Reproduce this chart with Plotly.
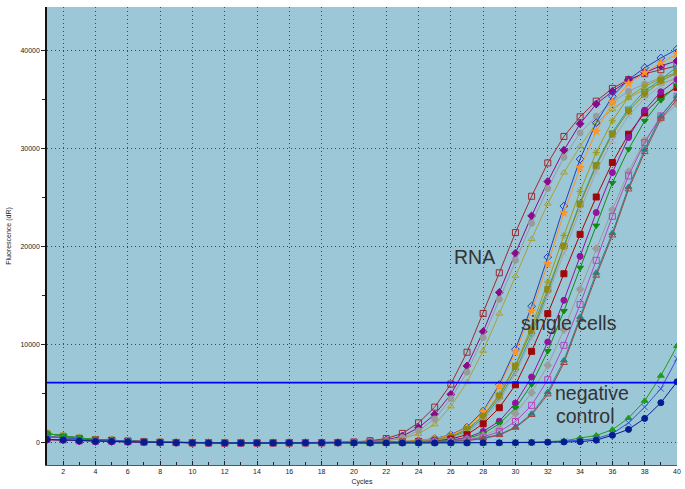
import plotly.graph_objects as go

cycles = list(range(1, 41))

# shared early-cycle baselines (cycles 1-19)
BASE_A = [900, 650, 450, 300, 250, 150, 80, 20, 0, -20, -30, -40, -40, -40, -30, -30, -20, -10, 0]
BASE_B = [600, 450, 350, 250, 200, 120, 60, 10, -10, -30, -40, -50, -50, -40, -40, -30, -30, -20, -10]
BASE_C = [300, 250, 150, 100, 100, 60, 30, 0, -20, -40, -50, -60, -60, -50, -50, -40, -40, -30, -20]

# late cycles 20-40
rna1 = [50, 170, 400, 920, 2000, 3600, 5950, 9200, 13150, 17300, 21400, 25100, 28500, 31200, 33200, 34800, 36100, 37000, 37600, 38000, 38400]
rna2 = [30, 100, 250, 650, 1500, 2850, 4900, 7800, 11300, 15300, 19300, 23100, 26600, 29800, 32500, 34500, 35800, 36900, 37700, 38400, 38900]
rna3 = [20, 80, 200, 500, 1200, 2400, 4460, 7170, 10680, 14600, 18570, 22350, 25890, 29080, 31560, 33270, 34700, 35800, 36560, 37200, 37700]
rna4 = [10, 60, 150, 400, 880, 1840, 3670, 6150, 9350, 13130, 16970, 20750, 24350, 27520, 30200, 32550, 33980, 35130, 36000, 36600, 37100]

sc1 = [0, 20, 50, 100, 200, 400, 790, 1560, 3200, 5900, 9500, 13900, 18900, 24100, 28900, 32600, 35300, 37000, 38200, 39200, 40100]
sc2 = [0, 20, 50, 100, 200, 380, 750, 1500, 3100, 5700, 9200, 13400, 18200, 23400, 28000, 31700, 34700, 36600, 37700, 38700, 39600]
sc3 = [0, 10, 30, 70, 150, 300, 600, 1300, 2700, 4900, 7900, 11800, 16350, 21100, 25600, 29560, 32800, 35230, 36330, 37100, 37700]
sc4 = [0, 10, 30, 60, 120, 250, 550, 1150, 2450, 4500, 7300, 11000, 15300, 20000, 24450, 28370, 31600, 34050, 35850, 37000, 38300]
sc5 = [0, 10, 30, 60, 120, 250, 600, 1330, 2650, 4730, 7760, 11430, 15600, 20030, 24300, 28200, 31430, 33780, 35510, 36840, 37680]
sc6 = [0, 10, 20, 50, 100, 200, 450, 1000, 2200, 4200, 7000, 10600, 15000, 19300, 23700, 27600, 30800, 33300, 35100, 36400, 37300]
sc7 = [0, 0, 20, 40, 80, 150, 350, 790, 1900, 3540, 5880, 9290, 13130, 17200, 21220, 25030, 28540, 31430, 33600, 35230, 36200]
sc8 = [0, 0, 10, 30, 50, 120, 250, 500, 1120, 2170, 4010, 6670, 10240, 14490, 18980, 23440, 27520, 31090, 33880, 35750, 37000]
sc9 = [0, 0, 10, 20, 40, 100, 200, 400, 900, 1900, 3500, 5920, 9320, 13400, 17820, 22110, 26460, 29900, 32790, 34900, 36430]
sc10 = [0, 0, 0, 10, 30, 80, 150, 320, 700, 1400, 2930, 5070, 7860, 11500, 15610, 19760, 23740, 27600, 30800, 33000, 34500]
sc11 = [0, 0, 0, 10, 30, 60, 120, 250, 550, 1100, 2140, 3780, 6400, 9900, 14080, 18570, 23060, 27180, 30580, 33300, 35300]
sc12 = [-20, -20, -10, 0, 20, 50, 100, 200, 450, 800, 1560, 2930, 5140, 8370, 12800, 17300, 21360, 26050, 29870, 33270, 35300]
sc13 = [-20, -20, -10, 0, 20, 40, 90, 180, 400, 750, 1500, 2800, 4900, 8100, 12500, 17000, 21100, 25800, 29600, 33000, 35000]

nc1 = [-50, -60, -60, -60, -50, -50, -40, -40, -30, -20, 0, 20, 60, 160, 450, 710, 1300, 2490, 4240, 6800, 9830]
nc2 = [-50, -60, -60, -60, -60, -50, -50, -40, -40, -30, -10, 10, 40, 100, 230, 400, 900, 2000, 3600, 5480, 8540]
nc3 = [-50, -60, -60, -60, -60, -60, -50, -50, -40, -40, -30, -10, 20, 50, 80, 230, 730, 1330, 2450, 4050, 6180]

THRESHOLD = 6100

series = [
    # name, early baseline, late values, color, symbol
    ("RNA 1", BASE_B, rna1, "#9e2a32", "square-open"),
    ("RNA 2", BASE_C, rna2, "#8a0a8a", "diamond"),
    ("RNA 3", BASE_B, rna3, "#9a9a9a", "circle"),
    ("RNA 4", BASE_A, rna4, "#a8a232", "triangle-up-open"),
    ("SC 1", BASE_B, sc1, "#1f3fc4", "diamond-open"),
    ("SC 2", BASE_A, sc2, "#ff9422", "star"),
    ("SC 3", BASE_B, sc3, "#9c9a1c", "asterisk-open"),
    ("SC 4", BASE_C, sc4, "#2a9c9c", "triangle-down-open"),
    ("SC 5", BASE_A, sc5, "#8e8a12", "square"),
    ("SC 6", BASE_C, sc6, "#a4a4a4", "x-thin-open"),
    ("SC 7", BASE_B, sc7, "#a00808", "square"),
    ("SC 8", BASE_C, sc8, "#9412a0", "circle"),
    ("SC 9", BASE_A, sc9, "#128c12", "triangle-down"),
    ("SC 10", BASE_B, sc10, "#9c9c9c", "diamond"),
    ("SC 11", BASE_C, sc11, "#b444c4", "square-open"),
    ("SC 12", BASE_A, sc12, "#178e8e", "triangle-up"),
    ("SC 13", BASE_C, sc13, "#a44444", "triangle-up-open"),
    ("NC 1", BASE_A, nc1, "#1c9c1c", "triangle-up"),
    ("NC 2", BASE_B, nc2, "#3452d2", "x-thin-open"),
    ("NC 3", BASE_C, nc3, "#061c92", "circle"),
]

fig = go.Figure()
for name, base, late, color, sym in series:
    vals = base + late
    fig.add_trace(go.Scatter(
        x=cycles, y=vals, mode="lines+markers", name=name,
        line=dict(color=color, width=1),
        marker=dict(symbol=sym, size=6, color=color,
                    line=dict(color=color, width=1)),
        showlegend=False,
    ))

fig.add_trace(go.Scatter(
    x=[1, 40], y=[THRESHOLD, THRESHOLD], mode="lines",
    line=dict(color="#0000ff", width=1.6), showlegend=False,
))

labels = [
    ("RNA", 27.45, 18900),
    ("single cells", 33.3, 12200),
    ("negative", 34.75, 5000),
    ("control", 34.35, 2700),
]
for txt, xx, yy in labels:
    fig.add_annotation(x=xx, y=yy, text=txt, showarrow=False,
                       font=dict(family="Liberation Sans, Arial", size=19.5, color="#333333"))

fig.update_layout(
    width=685, height=489,
    margin=dict(l=47, r=8, t=7, b=24),
    paper_bgcolor="white",
    plot_bgcolor="#9cc7d6",
    font=dict(family="Liberation Sans, Arial", size=7, color="#222222"),
)
fig.update_xaxes(
    range=[1, 40], tick0=0, dtick=2, automargin=False,
    showgrid=True, gridcolor="#3a4a52", griddash="1px,3px", gridwidth=1,
    zeroline=False, showline=True, linecolor="#555555", linewidth=1,
    ticks="inside", ticklen=4, tickcolor="#222",
    minor=dict(dtick=1, ticks="inside", ticklen=3, tickcolor="#222", showgrid=False),
    title=dict(text="Cycles", font=dict(size=7), standoff=4),
)
fig.update_yaxes(
    range=[-2300, 44400], tick0=0, dtick=10000, automargin=False,
    tickformat="d",
    showgrid=True, gridcolor="#3a4a52", griddash="1px,3px", gridwidth=1,
    zeroline=False, showline=True, linecolor="#111111", linewidth=1.5,
    ticks="outside", ticklen=4, tickcolor="#222",
    minor=dict(dtick=5000, ticks="outside", ticklen=3, tickcolor="#222", showgrid=False),
    title=dict(text="Fluorescence (dR)", font=dict(size=7), standoff=8),
)

fig.write_html("out.html", config={"displayModeBar": False},
               post_script="document.body.style.margin='0';")
